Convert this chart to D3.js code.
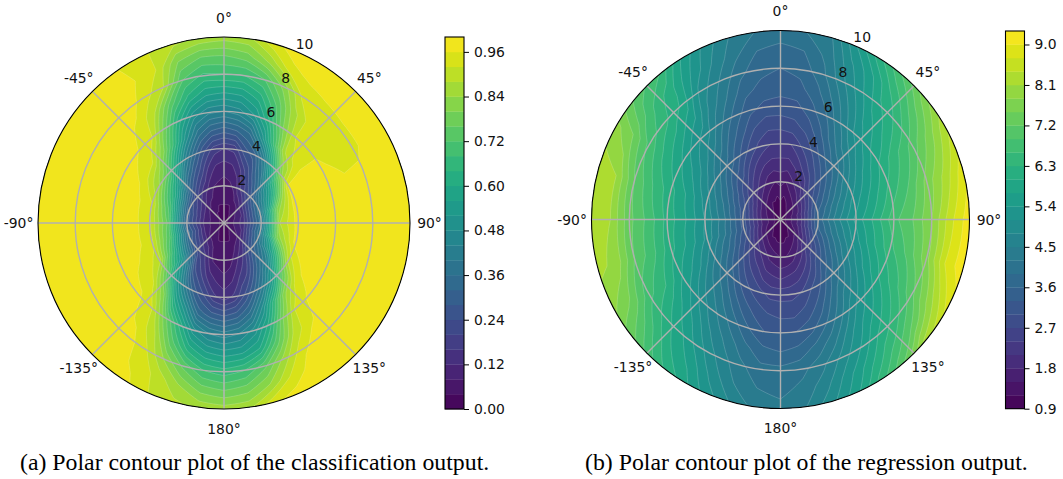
<!DOCTYPE html>
<html>
<head>
<meta charset="utf-8">
<script src="https://cdn.jsdelivr.net/npm/d3@7"></script>
<style>
  html, body { margin: 0; padding: 0; background: #fff; }
  svg { display: block; }
  text { font-family: "DejaVu Sans", sans-serif; fill: #111; }
  .caption { font-family: "Liberation Serif", serif; font-size: 23.8px; fill: #000; }
</style>
</head>
<body>
<div id="chart"></div>
<script>
// angles in degrees, clockwise from the top; the last column wraps round to -180
const angles = [-180,-172,-164,-156,-148,-140,-130,-120,-105,-90,-75,-60,-50,-40,-32,-24,-16,-8,
                0,8,16,24,32,40,50,60,75,90,105,120,130,140,148,156,164,172];
const radii = [0,1,2,3,4,5,6,7,8,9,10];
const radialTicks = [2,4,6,8,10];
const angleTicks = [0,45,90,135,180,-135,-90,-45];

// classification output, one row per radius
const classRows = [
  [.02,.02,.02,.02,.02,.02,.02,.02,.02,.02,.02,.02,.02,.02,.02,.02,.02,.02,.02,.02,.02,.02,.02,.02,.02,.02,.02,.02,.02,.02,.02,.02,.02,.02,.02,.02],
  [.04,.04,.04,.05,.06,.07,.08,.09,.10,.10,.10,.09,.08,.07,.05,.05,.04,.04,.04,.04,.04,.05,.06,.08,.10,.11,.13,.14,.13,.11,.09,.07,.06,.05,.04,.04],
  [.05,.06,.07,.12,.17,.20,.26,.29,.34,.30,.30,.26,.22,.18,.14,.11,.08,.07,.06,.07,.09,.15,.19,.24,.31,.36,.39,.38,.40,.35,.30,.24,.17,.13,.09,.06],
  [.09,.11,.14,.20,.25,.40,.54,.62,.72,.75,.70,.60,.50,.35,.28,.22,.15,.11,.10,.11,.15,.22,.30,.38,.53,.62,.82,.88,.82,.60,.45,.36,.28,.20,.16,.11],
  [.14,.17,.24,.30,.42,.56,.76,.90,.93,.93,.92,.84,.76,.60,.45,.34,.25,.18,.16,.17,.26,.30,.42,.60,.83,.97,.99,.98,.98,.90,.75,.54,.42,.32,.24,.17],
  [.28,.30,.34,.48,.60,.80,.93,.95,.98,.98,.98,.95,.92,.80,.66,.50,.38,.32,.30,.32,.36,.50,.68,.87,.94,.98,.98,.98,.98,.98,.93,.82,.65,.48,.36,.30],
  [.42,.44,.50,.64,.78,.92,.97,.98,.98,.98,.98,.98,.96,.92,.78,.62,.50,.45,.44,.46,.52,.64,.80,.92,.95,.97,.98,.98,.98,.98,.97,.93,.80,.62,.50,.44],
  [.54,.56,.62,.74,.88,.95,.98,.98,.98,.98,.98,.98,.98,.95,.88,.74,.63,.57,.56,.57,.62,.73,.86,.93,.94,.94,.98,.98,.98,.98,.98,.95,.88,.74,.60,.55],
  [.66,.68,.75,.84,.93,.98,.98,.98,.98,.98,.98,.98,.98,.98,.94,.88,.72,.67,.68,.68,.72,.82,.93,.94,.95,.95,.98,.98,.98,.98,.98,.98,.95,.86,.75,.68],
  [.76,.78,.84,.91,.95,.98,.98,.98,.98,.98,.98,.98,.98,.98,.96,.92,.80,.76,.76,.78,.85,.95,.97,.98,.98,.98,.98,.98,.98,.98,.98,.98,.98,.93,.84,.78],
  [.86,.87,.89,.92,.97,.98,.98,.98,.98,.98,.98,.98,.98,.98,.95,.92,.89,.87,.86,.87,.95,.98,.98,.98,.98,.98,.98,.98,.98,.98,.98,.98,.98,.98,.95,.87]
];

// regression output, one row per radius
const regrRows = [
  [.95,.95,.95,.95,.95,.95,.95,.95,.95,.95,.95,.95,.95,.95,.95,.95,.95,.95,.95,.95,.95,.95,.95,.95,.95,.95,.95,.95,.95,.95,.95,.95,.95,.95,.95,.95],
  [1.1,1.1,1.2,1.2,1.3,1.4,1.5,1.6,1.8,1.8,1.7,1.6,1.5,1.4,1.3,1.2,1.2,1.1,1.2,1.1,1.2,1.3,1.4,1.5,1.6,1.7,1.9,1.9,1.9,1.7,1.5,1.4,1.3,1.2,1.2,1.1],
  [1.5,1.6,1.7,1.9,2.1,2.3,2.6,2.9,3.2,3.2,3.1,2.8,2.5,2.2,2.0,1.8,1.6,1.5,1.6,1.5,1.7,1.9,2.1,2.5,2.8,3.1,3.5,3.7,3.5,3.0,2.6,2.4,2.0,1.8,1.6,1.5],
  [2.0,2.1,2.2,2.5,2.7,3.0,3.4,3.8,4.2,4.3,4.1,3.7,3.3,3.0,2.6,2.3,2.1,2.0,2.0,2.0,2.2,2.5,2.8,3.1,3.5,3.9,4.4,4.7,4.4,3.9,3.5,3.1,2.7,2.4,2.2,2.1],
  [2.6,2.6,2.8,3.0,3.3,3.7,4.1,4.5,5.0,5.1,4.9,4.5,4.1,3.7,3.3,2.9,2.6,2.4,2.4,2.4,2.7,3.0,3.4,3.8,4.2,4.7,5.2,5.5,5.2,4.7,4.2,3.8,3.3,3.0,2.7,2.6],
  [2.9,3.0,3.2,3.5,3.9,4.3,4.7,5.2,5.6,5.7,5.6,5.2,4.8,4.3,3.8,3.4,3.0,2.8,2.8,2.9,3.1,3.5,4.0,4.5,5.0,5.4,5.8,6.1,5.9,5.4,4.9,4.4,3.9,3.4,3.1,2.9],
  [3.3,3.3,3.6,4.0,4.4,4.8,5.3,5.7,6.1,6.2,6.1,5.7,5.3,4.9,4.3,3.8,3.4,3.2,3.2,3.2,3.5,3.9,4.5,5.1,5.6,6.0,6.4,6.8,6.5,6.0,5.5,5.0,4.4,3.9,3.5,3.3],
  [3.6,3.7,4.0,4.4,4.8,5.3,5.8,6.3,6.7,6.8,6.6,6.2,5.9,5.4,4.7,4.2,3.7,3.5,3.4,3.5,3.8,4.3,4.9,5.5,6.0,6.5,6.9,7.2,7.0,6.5,6.0,5.5,5.0,4.4,4.0,3.7],
  [4.0,4.0,4.3,4.7,5.2,5.7,6.2,6.7,7.2,7.3,7.2,6.8,6.4,5.9,5.0,4.5,4.0,3.7,3.6,3.7,4.1,4.7,5.3,5.9,6.4,7.0,7.6,7.8,7.7,7.1,6.5,6.0,5.4,4.9,4.4,4.1],
  [4.1,4.2,4.5,5.0,5.6,6.0,6.7,7.4,8.0,8.1,8.1,7.5,6.7,6.1,5.4,4.8,4.3,3.9,3.8,3.9,4.3,5.0,5.6,6.3,7.0,7.6,8.2,8.6,8.7,7.9,7.2,6.5,5.9,5.3,4.7,4.3],
  [4.3,4.4,4.8,5.3,5.9,6.4,7.2,7.8,8.2,8.3,8.3,7.9,7.1,6.6,5.7,5.0,4.5,4.2,4.1,4.2,4.5,5.4,6.2,6.9,7.7,8.3,8.9,9.2,9.25,8.7,8.2,7.1,6.4,5.6,5.0,4.5]
];

const classLevels = d3.range(26).map(i => i * 0.04);
const classBarTicks = [0,0.12,0.24,0.36,0.48,0.6,0.72,0.84,0.96];
const regrLevels = d3.range(29).map(i => 0.9 + i * 0.3);
const regrBarTicks = [0.9,1.8,2.7,3.6,4.5,5.4,6.3,7.2,8.1,9.0];

const w = 1063;
const h = 479;
const svg = d3.select("#chart").append("svg").attr("width", w).attr("height", h);

const angleIndex = d3.scaleLinear()
  .domain(d3.range(angles.length + 1))
  .range(angles.concat([180]).map(a => a * Math.PI / 180));
const radiusIndex = d3.scaleLinear().domain(d3.range(radii.length)).range(radii);

function drawPolar(id, rows, levels, cx, cy, R, barTicks, barX, barW, barTop, barBottom, tickFormat) {
  const g = svg.append("g").attr("transform", `translate(${cx},${cy})`);
  const r = d3.scaleLinear().domain([0, 10]).range([0, R]);
  const nx = angles.length + 1;
  const ny = radii.length;
  const values = rows.flatMap(row => row.concat([row[0]]));

  const contours = d3.contours().size([nx, ny]).thresholds(levels.slice(0, -1))(values);
  const line = d3.lineRadial().curve(d3.curveLinearClosed)
    .angle(p => angleIndex(p[0]))
    .radius(p => r(radiusIndex(p[1])));

  // rings come back in grid coordinates, split them up so they bend round the circle
  const ringPath = ring => {
    const pts = [];
    ring.forEach((p, i) => {
      const q = ring[(i + 1) % ring.length];
      for (let k = 0; k < 5; k++) {
        const t = k / 5;
        const x = p[0] + (q[0] - p[0]) * t - 0.5;
        const y = p[1] + (q[1] - p[1]) * t - 0.5;
        pts.push([Math.max(0, Math.min(nx - 1, x)), Math.max(0, Math.min(ny - 1, y))]);
      }
    });
    return line(pts);
  };
  const toPath = c => c.coordinates.map(poly => poly.map(ringPath).join("")).join("");

  const color = i => d3.interpolateViridis((i + 0.5) / (levels.length - 1));

  g.append("clipPath").attr("id", "clip-" + id).append("circle").attr("r", R);
  const bands = g.append("g").attr("clip-path", `url(#clip-${id})`);
  bands.selectAll("path")
    .data(contours)
    .enter()
    .append("path")
    .attr("d", toPath)
    .attr("fill", (d, i) => color(i))
    .attr("fill-rule", "evenodd")
    .attr("stroke", (d, i) => i === 0 ? "none" : "#fff")
    .attr("stroke-opacity", 0.3)
    .attr("stroke-width", 0.6);

  // grid
  g.selectAll("circle.grid")
    .data(radialTicks.slice(0, -1))
    .enter()
    .append("circle")
    .attr("class", "grid")
    .attr("r", d => r(d))
    .attr("fill", "none")
    .attr("stroke", "#b0b0b0")
    .attr("stroke-width", 1.4);
  g.selectAll("line.grid")
    .data(angleTicks)
    .enter()
    .append("line")
    .attr("class", "grid")
    .attr("x2", d => R * Math.sin(d * Math.PI / 180))
    .attr("y2", d => -R * Math.cos(d * Math.PI / 180))
    .attr("stroke", "#b0b0b0")
    .attr("stroke-width", 1.4);

  g.append("circle").attr("r", R).attr("fill", "none").attr("stroke", "#000").attr("stroke-width", 1.1);

  // angle labels
  g.selectAll("text.angle")
    .data(angleTicks)
    .enter()
    .append("text")
    .attr("class", "angle")
    .attr("x", d => (R + 19.5) * Math.sin(d * Math.PI / 180))
    .attr("y", d => -(R + 19.5) * Math.cos(d * Math.PI / 180))
    .attr("text-anchor", "middle")
    .attr("dominant-baseline", "central")
    .attr("font-size", 13.9)
    .text(d => d + "°");

  // radius labels
  const labelAngle = 23 * Math.PI / 180;
  g.selectAll("text.radius")
    .data(radialTicks)
    .enter()
    .append("text")
    .attr("class", "radius")
    .attr("x", d => (r(d) + 9) * Math.sin(labelAngle) - 4.5)
    .attr("y", d => -(r(d) + 9) * Math.cos(labelAngle))
    .attr("dominant-baseline", "central")
    .attr("font-size", 13.9)
    .text(d => d);

  // colour bar
  const y = d3.scaleLinear().domain([levels[0], levels[levels.length - 1]]).range([barBottom, barTop]);
  const bar = svg.append("g").attr("transform", `translate(${barX},0)`);
  bar.selectAll("rect")
    .data(levels.slice(0, -1))
    .enter()
    .append("rect")
    .attr("x", 0)
    .attr("width", barW)
    .attr("y", (d, i) => y(levels[i + 1]))
    .attr("height", (d, i) => y(levels[i]) - y(levels[i + 1]) + 0.3)
    .attr("fill", (d, i) => color(i));
  bar.append("rect")
    .attr("x", 0).attr("y", barTop)
    .attr("width", barW).attr("height", barBottom - barTop)
    .attr("fill", "none").attr("stroke", "#000").attr("stroke-width", 1.1);
  const axis = bar.append("g")
    .attr("transform", `translate(${barW},0)`)
    .call(d3.axisRight(y).tickValues(barTicks).tickFormat(d3.format(tickFormat)).tickSize(5).tickPadding(5));
  axis.select(".domain").remove();
  axis.selectAll("text").attr("font-size", 13.9).attr("font-family", "DejaVu Sans");
}

drawPolar("a", classRows, classLevels, 224, 223, 186, classBarTicks, 445, 19, 37, 409, ".2f");
drawPolar("b", regrRows, regrLevels, 780.5, 219.5, 189, regrBarTicks, 1005.5, 19, 31, 408.7, ".1f");

svg.append("text").attr("class", "caption").attr("x", 20).attr("y", 470)
  .text("(a) Polar contour plot of the classification output.");
svg.append("text").attr("class", "caption").attr("x", 585).attr("y", 470)
  .text("(b) Polar contour plot of the regression output.");
</script>
</body>
</html>
